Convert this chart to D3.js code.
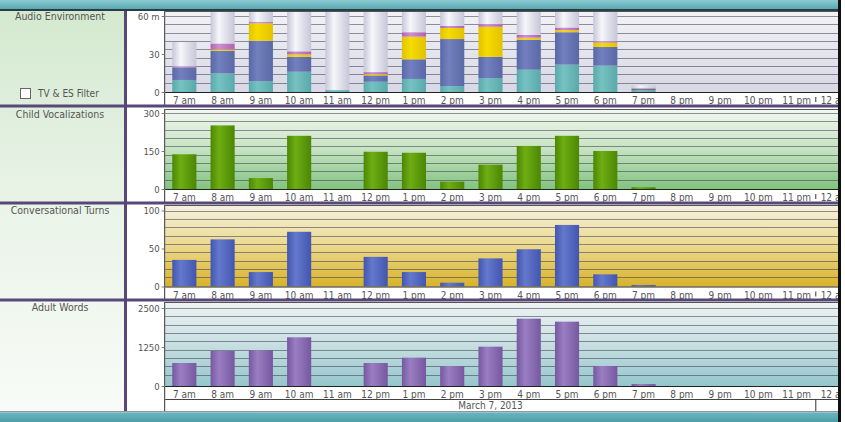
<!DOCTYPE html>
<html>
<head>
<meta charset="utf-8">
<script src="https://cdn.jsdelivr.net/npm/d3@7"></script>
<style>
  body { margin: 0; background: #fff; }
  svg text { font-family: "DejaVu Sans Condensed", "DejaVu Sans", sans-serif; fill: #555; }
</style>
</head>
<body>
<div id="chart"></div>
<script>
"use strict";

// hour slots of the recording day
var hours = ["7 am", "8 am", "9 am", "10 am", "11 am", "12 pm", "1 pm", "2 pm", "3 pm",
             "4 pm", "5 pm", "6 pm", "7 pm", "8 pm", "9 pm", "10 pm", "11 pm", "12 am"];

// audio environment, minutes per hour (stacked bottom to top)
var meaningful = [9.5, 14.7, 8.5, 16.0, 1.5, 8.1, 10.3, 4.7, 11.0, 17.6, 21.6, 20.8, 1.2, 0, 0, 0, 0, 0];
var distant    = [9.9, 17.9, 32.0, 11.8, 0, 5.0, 15.5, 37.1, 16.8, 23.7, 25.6, 14.8, 1.2, 0, 0, 0, 0, 0];
var tvElectric = [0, 1.0, 13.7, 1.9, 0, 1.0, 17.9, 8.7, 23.7, 1.6, 1.6, 3.4, 0.4, 0, 0, 0, 0, 0];
var noise      = [0.8, 4.7, 1.0, 2.4, 0, 1.6, 3.5, 1.6, 2.1, 2.1, 2.1, 1.1, 0.5, 0, 0, 0, 0, 0];
var silence    = [19.2, 25.7, 8.8, 31.9, 62.5, 48.3, 16.8, 11.9, 10.4, 19.0, 13.1, 23.9, 2.0, 0, 0, 0, 0, 0];

var childVoc   = [137, 251, 43, 210, 0, 147, 143, 29, 96, 170, 210, 150, 7, 0, 0, 0, 0, 0];
var convTurns  = [35, 62, 19, 72, 0, 39, 19, 5, 37, 49, 81, 16, 2, 0, 0, 0, 0, 0];
var adultWords = [737, 1122, 1154, 1560, 0, 737, 908, 641, 1260, 2158, 2062, 641, 64, 0, 0, 0, 0, 0];

var audioTicks = [0, 30, 60];
var childTicks = [0, 150, 300];
var turnTicks  = [0, 50, 100];
var wordTicks  = [0, 1250, 2500];

var dateLabel = "March 7, 2013";

var W = 845, H = 422;
var plotLeft = 165.2, step = 38.27, plotRight = 838;

var svg = d3.select("#chart").append("svg")
    .attr("width", W).attr("height", H);
var defs = svg.append("defs");

function vGrad(id, stops) {
    var g = defs.append("linearGradient").attr("id", id)
        .attr("x1", 0).attr("y1", 0).attr("x2", 0).attr("y2", 1);
    stops.forEach(function(s) {
        g.append("stop").attr("offset", s[0]).attr("stop-color", s[1]);
    });
}
function hGrad(id, dark, light) {
    var g = defs.append("linearGradient").attr("id", id)
        .attr("x1", 0).attr("y1", 0).attr("x2", 1).attr("y2", 0);
    g.append("stop").attr("offset", 0).attr("stop-color", dark);
    g.append("stop").attr("offset", 0.35).attr("stop-color", light);
    g.append("stop").attr("offset", 1).attr("stop-color", dark);
}

vGrad("leftBg", [[0, "#d4e9d0"], [0.5, "#eaf4e8"], [1, "#f8fbf7"]]);
vGrad("topBand", [[0, "#8ccad0"], [1, "#55a6b0"]]);
vGrad("botBand", [[0, "#6bb6c0"], [1, "#4c9ea8"]]);
vGrad("bg1", [[0, "#f2f2f6"], [1, "#d8d8e6"]]);
vGrad("bg2", [[0, "#f3f8f1"], [0.5, "#c6e3c2"], [1, "#82c380"]]);
vGrad("bg3", [[0, "#f5f1df"], [0.5, "#ecd98e"], [1, "#d8b22a"]]);
vGrad("bg4", [[0, "#eff3f3"], [0.5, "#c8dfe1"], [1, "#94c6cc"]]);

hGrad("gMean", "#5aa9aa", "#76c2c2");
hGrad("gDist", "#5b68a6", "#7380bf");
hGrad("gTv", "#e2c200", "#f6dc00");
hGrad("gNoise", "#b062b2", "#cf8ed0");
hGrad("gSil", "#c6c6d8", "#f6f6fa");
hGrad("gChild", "#4c8604", "#6eae12");
hGrad("gTurn", "#4256b0", "#6478cc");
hGrad("gWord", "#7658a0", "#9a7ec2");

var x = d3.scaleBand().domain(hours)
    .range([plotLeft, plotLeft + step * hours.length])
    .paddingInner(0.37).paddingOuter(0.185);

// frame pieces
svg.append("rect").attr("x", 0).attr("y", 10).attr("width", 125).attr("height", 402)
    .attr("fill", "url(#leftBg)");
svg.append("rect").attr("x", 127).attr("y", 10).attr("width", plotRight - 127).attr("height", 402)
    .attr("fill", "#fff");

var panels = [
    { title: "Audio Environment", top: 11, base: 92, px: 76, ticks: audioTicks, bg: "bg1", stacked: true },
    { title: "Child Vocalizations", top: 109, base: 189, px: 76, ticks: childTicks, bg: "bg2", values: childVoc, fill: "gChild" },
    { title: "Conversational Turns", top: 205, base: 286.5, px: 76, ticks: turnTicks, bg: "bg3", values: convTurns, fill: "gTurn" },
    { title: "Adult Words", top: 302, base: 386, px: 78, ticks: wordTicks, bg: "bg4", values: adultWords, fill: "gWord" }
];

var audioKeys = ["meaningful", "distant", "tv", "noise", "silence"];
var audioFills = { meaningful: "gMean", distant: "gDist", tv: "gTv", noise: "gNoise", silence: "gSil" };
var audioRows = hours.map(function(h, i) {
    return { hour: h, meaningful: meaningful[i], distant: distant[i], tv: tvElectric[i],
             noise: noise[i], silence: silence[i] };
});
var stack = d3.stack().keys(audioKeys)(audioRows);

panels.forEach(function(p, pi) {
    var maxTick = p.ticks[p.ticks.length - 1];
    var y = d3.scaleLinear().domain([0, maxTick]).range([p.base, p.base - p.px]);
    var g = svg.append("g");

    var clipId = "clip" + pi;
    defs.append("clipPath").attr("id", clipId).append("rect")
        .attr("x", plotLeft).attr("y", p.top)
        .attr("width", plotRight - plotLeft).attr("height", p.base - p.top);

    g.append("rect").attr("x", plotLeft).attr("y", p.top)
        .attr("width", plotRight - plotLeft).attr("height", p.base - p.top)
        .attr("fill", "url(#" + p.bg + ")");

    // grid lines
    g.selectAll(".grid").data(d3.range(9)).enter().append("line")
        .attr("x1", plotLeft).attr("x2", plotRight)
        .attr("y1", function(k) { return Math.round(y(maxTick) + k * 8.35) + 0.5; })
        .attr("y2", function(k) { return Math.round(y(maxTick) + k * 8.35) + 0.5; })
        .attr("stroke", "rgba(60,60,80,0.55)").attr("stroke-width", 1);

    var bars = g.append("g").attr("clip-path", "url(#" + clipId + ")");
    if (p.stacked) {
        bars.selectAll("g").data(stack).enter().append("g")
            .attr("fill", function(s) { return "url(#" + audioFills[s.key] + ")"; })
            .selectAll("rect").data(function(s) { return s; }).enter().append("rect")
            .attr("x", function(d) { return x(d.data.hour); })
            .attr("width", x.bandwidth())
            .attr("y", function(d) { return y(d[1]); })
            .attr("height", function(d) { return Math.max(0, y(d[0]) - y(d[1])); });
    } else {
        bars.selectAll("rect").data(p.values).enter().append("rect")
            .attr("x", function(d, i) { return x(hours[i]); })
            .attr("width", x.bandwidth())
            .attr("y", function(d) { return y(d); })
            .attr("height", function(d) { return p.base - y(d); })
            .attr("fill", "url(#" + p.fill + ")");
    }

    // frame lines
    g.append("line").attr("x1", plotLeft).attr("x2", plotRight)
        .attr("y1", p.top + 0.5).attr("y2", p.top + 0.5).attr("stroke", "#555");
    g.append("line").attr("x1", plotLeft).attr("x2", plotRight)
        .attr("y1", p.base + 0.5).attr("y2", p.base + 0.5).attr("stroke", "#222");

    // y axis
    var yAxis = d3.axisLeft(y).tickValues(p.ticks).tickSize(3).tickPadding(2)
        .tickFormat(function(v) { return (pi === 0 && v === 60) ? "60 m" : v; });
    var ya = g.append("g").attr("transform", "translate(" + (plotLeft - 0.5) + ",0)").call(yAxis);
    ya.select(".domain").attr("stroke", "#333");
    ya.selectAll(".tick line").attr("stroke", "#777");
    ya.selectAll("text").attr("font-size", 9.5).style("fill", "#555");
    ya.select(".domain").attr("d", "M0," + p.top + "V" + (pi === 3 ? 411 : p.base + 13));

    // x axis labels
    var xAxis = d3.axisBottom(x).tickSize(0).tickPadding(5);
    var xa = g.append("g").attr("transform", "translate(0," + p.base + ")").call(xAxis);
    xa.select(".domain").remove();
    xa.selectAll("text").attr("font-size", 10).style("fill", "#555");

    if (pi < 3) {
        var edge = x("12 am") - x.step() * x.paddingInner() / 2;
        g.append("line").attr("x1", edge).attr("x2", edge)
            .attr("y1", p.base + 5).attr("y2", p.base + 10).attr("stroke", "#333");
    }

    // panel title
    svg.append("text").attr("x", 60).attr("y", p.top + 9)
        .attr("text-anchor", "middle").attr("font-size", 10.5).text(p.title);
});

// TV & ES filter checkbox
svg.append("rect").attr("x", 20.5).attr("y", 88.5).attr("width", 10).attr("height", 10)
    .attr("fill", "#fff").attr("stroke", "#666");
svg.append("text").attr("x", 38).attr("y", 97).attr("font-size", 10).text("TV & ES Filter");

// date row
var dayEnd = x("12 am") - x.step() * x.paddingInner() / 2;
svg.append("line").attr("x1", plotLeft).attr("x2", plotRight).attr("y1", 399.5).attr("y2", 399.5)
    .attr("stroke", "#444");
svg.append("line").attr("x1", dayEnd).attr("x2", dayEnd).attr("y1", 399.5).attr("y2", 411)
    .attr("stroke", "#333");
svg.append("text").attr("x", (plotLeft + dayEnd) / 2).attr("y", 409)
    .attr("text-anchor", "middle").attr("font-size", 10).text(dateLabel);

// dividers
[104.5, 201.5, 298.5].forEach(function(yy) {
    svg.append("rect").attr("x", 0).attr("y", yy).attr("width", plotRight).attr("height", 3)
        .attr("fill", "#58487a");
});
svg.append("rect").attr("x", 124).attr("y", 10).attr("width", 3).attr("height", 402)
    .attr("fill", "#58487a");

// top and bottom bands
svg.append("rect").attr("x", 0).attr("y", 0).attr("width", plotRight).attr("height", 9.5)
    .attr("fill", "url(#topBand)");
svg.append("rect").attr("x", 0).attr("y", 9).attr("width", plotRight).attr("height", 2)
    .attr("fill", "#2c3c44");
svg.append("rect").attr("x", 0).attr("y", 411).attr("width", plotRight).attr("height", 1.5)
    .attr("fill", "#8a9aa0");
svg.append("rect").attr("x", 0).attr("y", 412.5).attr("width", plotRight).attr("height", 9.5)
    .attr("fill", "url(#botBand)");

// right edge
svg.append("rect").attr("x", plotRight).attr("y", 0).attr("width", 3).attr("height", H).attr("fill", "#111");
svg.append("rect").attr("x", plotRight + 3).attr("y", 0).attr("width", W - plotRight - 3).attr("height", H).attr("fill", "#fff");
</script>
</body>
</html>
